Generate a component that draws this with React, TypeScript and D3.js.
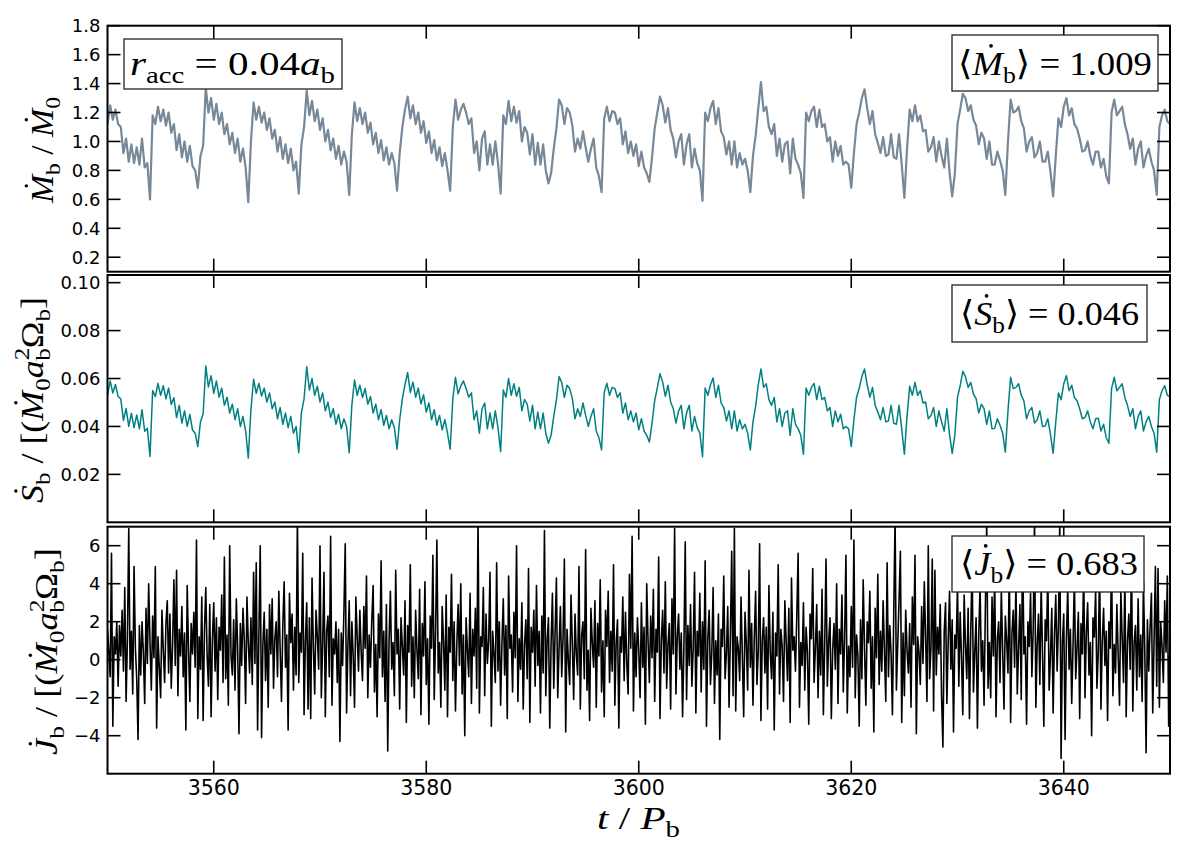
import * as d3 from "d3";
import React, { useEffect, useRef } from "react";

// time axis: all series start at t = 3550 P_b
const tStart = 3550;
const slowStep = 0.25; // sampling of Mdot and Sdot
const fastStep = 0.125; // sampling of Jdot

// accretion rate Mdot_b / Mdot_0
const mdot = [
  1.12, 1.25, 1.15, 1.22, 1.12, 1.10, 0.92, 1.02, 0.86, 0.98,
  0.85, 0.96, 0.84, 1.02, 0.82, 0.85, 0.60, 1.18, 1.12, 1.24,
  1.14, 1.22, 1.11, 1.20, 1.06, 1.12, 0.94, 1.05, 0.89, 1.00,
  0.86, 0.97, 0.83, 0.80, 0.68, 0.90, 0.97, 1.37, 1.20, 1.30,
  1.15, 1.26, 1.12, 1.20, 1.05, 1.12, 0.98, 1.06, 0.92, 1.02,
  0.86, 0.95, 0.82, 0.58, 1.00, 1.27, 1.15, 1.24, 1.13, 1.20,
  1.08, 1.16, 1.02, 1.08, 0.93, 1.03, 0.88, 0.98, 0.85, 0.95,
  0.80, 0.86, 0.64, 0.98, 1.10, 1.35, 1.18, 1.28, 1.14, 1.22,
  1.08, 1.16, 1.00, 1.08, 0.94, 1.02, 0.88, 0.97, 0.84, 0.93,
  0.86, 0.63, 1.05, 1.27, 1.14, 1.23, 1.12, 1.20, 1.06, 1.13,
  0.98, 1.06, 0.92, 1.01, 0.87, 0.96, 0.84, 0.92, 0.85, 0.66,
  0.92, 1.10, 1.22, 1.31, 1.16, 1.25, 1.12, 1.20, 1.06, 1.14,
  0.99, 1.07, 0.92, 1.01, 0.87, 0.96, 0.83, 0.92, 0.80, 0.66,
  1.10, 1.29, 1.15, 1.22, 1.26, 1.20, 1.12, 1.16, 0.92, 1.00,
  0.80, 1.02, 1.07, 0.84, 0.98, 0.84, 1.00, 0.85, 0.64, 1.18,
  1.12, 1.28, 1.14, 1.24, 1.13, 1.21, 1.00, 1.10, 1.06, 0.91,
  1.05, 0.84, 0.99, 0.84, 0.98, 0.80, 0.71, 0.78, 0.95, 1.09,
  1.29, 1.25, 1.12, 1.23, 1.20, 1.11, 0.93, 1.02, 0.95, 1.07,
  0.96, 0.86, 0.95, 1.02, 0.82, 0.76, 0.65, 1.16, 1.24, 1.14,
  1.21, 1.20, 1.12, 1.16, 0.98, 1.07, 0.92, 1.00, 0.90, 0.98,
  0.83, 0.93, 0.82, 0.78, 0.72, 0.89, 1.09, 1.20, 1.31, 1.25,
  1.13, 1.23, 1.08, 1.02, 0.89, 1.00, 1.05, 0.84, 0.98, 1.05,
  0.82, 0.95, 0.85, 0.80, 0.59, 1.20, 1.14, 1.23, 1.28, 1.12,
  1.23, 1.07, 1.03, 0.91, 1.00, 0.84, 1.00, 0.82, 0.92, 0.84,
  0.88, 0.80, 0.65, 0.90, 1.04, 1.23, 1.41, 1.21, 1.24, 1.10,
  1.05, 1.12, 0.90, 1.02, 0.86, 0.98, 1.00, 0.78, 1.02, 0.88,
  0.84, 0.78, 0.61, 1.20, 1.14, 1.21, 1.24, 1.10, 1.22, 1.10,
  1.12, 1.00, 1.03, 0.86, 1.00, 0.90, 0.97, 0.84, 0.86, 0.84,
  0.68, 0.92, 1.12, 1.20, 1.30, 1.36, 1.23, 1.12, 1.21, 1.05,
  0.99, 0.92, 1.03, 0.90, 0.91, 1.05, 0.89, 0.88, 1.05, 0.84,
  0.61, 0.95, 1.22, 1.14, 1.25, 1.14, 1.18, 1.07, 1.08, 0.93,
  0.96, 1.03, 0.86, 1.00, 0.90, 0.82, 1.02, 0.79, 0.62, 0.78,
  1.12, 1.22, 1.33, 1.30, 1.21, 1.25, 1.15, 1.11, 0.98, 1.06,
  1.02, 0.88, 1.00, 0.84, 0.84, 0.93, 0.87, 0.80, 0.63, 1.00,
  1.29, 1.20, 1.21, 1.24, 1.14, 1.09, 0.93, 1.00, 1.03, 0.89,
  0.92, 1.00, 0.86, 0.86, 0.93, 0.79, 0.62, 0.90, 1.16, 1.10,
  1.24, 1.30, 1.18, 1.23, 1.12, 1.09, 1.02, 0.93, 0.94, 1.00,
  0.90, 0.84, 0.93, 0.93, 0.82, 0.88, 0.76, 0.71, 1.20, 1.29,
  1.18, 1.21, 1.24, 1.12, 1.05, 0.95, 1.02, 0.84, 0.95, 1.00,
  0.82, 0.90, 0.95, 0.86, 0.80, 0.63, 1.10, 1.18, 1.22, 1.14,
  1.12,
];

// Sdot_b, middle panel
const sdot = [
  0.0530, 0.0590, 0.0540, 0.0575, 0.0525, 0.0515, 0.0425, 0.0475, 0.0400, 0.0455,
  0.0395, 0.0448, 0.0390, 0.0470, 0.0380, 0.0392, 0.0275, 0.0550, 0.0525, 0.0580,
  0.0530, 0.0570, 0.0515, 0.0560, 0.0492, 0.0520, 0.0437, 0.0488, 0.0414, 0.0465,
  0.0400, 0.0450, 0.0385, 0.0372, 0.0316, 0.0420, 0.0452, 0.0652, 0.0565, 0.0612,
  0.0538, 0.0590, 0.0522, 0.0560, 0.0488, 0.0522, 0.0456, 0.0493, 0.0428, 0.0474,
  0.0400, 0.0442, 0.0381, 0.0268, 0.0470, 0.0597, 0.0538, 0.0580, 0.0527, 0.0560,
  0.0502, 0.0540, 0.0474, 0.0502, 0.0432, 0.0479, 0.0409, 0.0456, 0.0395, 0.0442,
  0.0372, 0.0400, 0.0290, 0.0458, 0.0515, 0.0649, 0.0552, 0.0600, 0.0530, 0.0568,
  0.0502, 0.0540, 0.0465, 0.0502, 0.0437, 0.0474, 0.0409, 0.0451, 0.0390, 0.0432,
  0.0400, 0.0290, 0.0490, 0.0594, 0.0530, 0.0572, 0.0521, 0.0558, 0.0493, 0.0525,
  0.0456, 0.0493, 0.0428, 0.0470, 0.0405, 0.0446, 0.0390, 0.0428, 0.0395, 0.0305,
  0.0428, 0.0515, 0.0575, 0.0625, 0.0542, 0.0585, 0.0522, 0.0560, 0.0494, 0.0532,
  0.0460, 0.0498, 0.0428, 0.0470, 0.0405, 0.0446, 0.0386, 0.0428, 0.0372, 0.0305,
  0.0515, 0.0605, 0.0536, 0.0568, 0.0590, 0.0558, 0.0522, 0.0540, 0.0428, 0.0465,
  0.0372, 0.0474, 0.0498, 0.0390, 0.0456, 0.0390, 0.0465, 0.0395, 0.0295, 0.0552,
  0.0522, 0.0600, 0.0530, 0.0578, 0.0526, 0.0563, 0.0465, 0.0512, 0.0493, 0.0423,
  0.0488, 0.0390, 0.0460, 0.0390, 0.0456, 0.0372, 0.0330, 0.0363, 0.0442, 0.0510,
  0.0608, 0.0584, 0.0521, 0.0572, 0.0558, 0.0516, 0.0432, 0.0474, 0.0442, 0.0498,
  0.0446, 0.0400, 0.0442, 0.0474, 0.0381, 0.0353, 0.0302, 0.0542, 0.0580, 0.0530,
  0.0563, 0.0558, 0.0521, 0.0540, 0.0456, 0.0498, 0.0428, 0.0465, 0.0419, 0.0456,
  0.0386, 0.0432, 0.0381, 0.0363, 0.0335, 0.0414, 0.0508, 0.0562, 0.0620, 0.0585,
  0.0526, 0.0572, 0.0502, 0.0474, 0.0414, 0.0465, 0.0488, 0.0390, 0.0456, 0.0488,
  0.0381, 0.0442, 0.0395, 0.0372, 0.0274, 0.0560, 0.0530, 0.0574, 0.0602, 0.0521,
  0.0572, 0.0498, 0.0479, 0.0423, 0.0465, 0.0390, 0.0465, 0.0381, 0.0428, 0.0390,
  0.0409, 0.0372, 0.0302, 0.0419, 0.0484, 0.0575, 0.0640, 0.0563, 0.0578, 0.0512,
  0.0488, 0.0521, 0.0419, 0.0474, 0.0400, 0.0456, 0.0465, 0.0363, 0.0474, 0.0409,
  0.0390, 0.0363, 0.0284, 0.0560, 0.0530, 0.0563, 0.0580, 0.0512, 0.0568, 0.0512,
  0.0521, 0.0465, 0.0479, 0.0400, 0.0465, 0.0419, 0.0451, 0.0390, 0.0400, 0.0390,
  0.0316, 0.0428, 0.0522, 0.0560, 0.0608, 0.0640, 0.0574, 0.0522, 0.0563, 0.0488,
  0.0460, 0.0428, 0.0479, 0.0419, 0.0423, 0.0488, 0.0414, 0.0409, 0.0488, 0.0390,
  0.0284, 0.0442, 0.0568, 0.0530, 0.0584, 0.0530, 0.0549, 0.0498, 0.0502, 0.0432,
  0.0446, 0.0479, 0.0400, 0.0465, 0.0419, 0.0381, 0.0474, 0.0367, 0.0288, 0.0363,
  0.0521, 0.0570, 0.0630, 0.0608, 0.0563, 0.0584, 0.0535, 0.0516, 0.0456, 0.0493,
  0.0474, 0.0409, 0.0465, 0.0390, 0.0392, 0.0432, 0.0405, 0.0372, 0.0293, 0.0465,
  0.0605, 0.0558, 0.0563, 0.0578, 0.0530, 0.0507, 0.0432, 0.0465, 0.0479, 0.0414,
  0.0428, 0.0465, 0.0400, 0.0402, 0.0432, 0.0367, 0.0288, 0.0419, 0.0540, 0.0512,
  0.0578, 0.0612, 0.0549, 0.0572, 0.0521, 0.0507, 0.0474, 0.0432, 0.0437, 0.0465,
  0.0419, 0.0390, 0.0432, 0.0434, 0.0381, 0.0409, 0.0353, 0.0330, 0.0558, 0.0605,
  0.0549, 0.0563, 0.0578, 0.0521, 0.0488, 0.0442, 0.0474, 0.0390, 0.0442, 0.0465,
  0.0381, 0.0419, 0.0442, 0.0400, 0.0372, 0.0293, 0.0512, 0.0549, 0.0570, 0.0530,
  0.0525,
];

// Jdot_b, bottom panel (8 samples per orbit, one row per orbit)
const jdot = [
  1.6, 0.4, -0.9, 5.6, -3.5, 1.2, 0.3, 2.0,
  -1.4, 1.8, 0.2, 2.6, -0.6, 3.8, -2.2, 1.1,
  6.9, -0.5, 1.5, -1.8, 4.9, 0.6, -1.0, -4.2,
  1.8, -0.8, 2.0, 0.4, -2.3, 2.7, -0.2, 4.0,
  0.9, -1.6, 2.3, 0.1, 4.9, -3.6, 1.2, -0.4,
  -2.0, 2.6, 0.5, -1.2, 1.9, 3.1, -0.7, 2.4,
  -1.5, 0.8, 4.2, -0.3, 4.7, -1.9, 1.6, 0.2,
  2.8, -0.9, 1.4, -3.7, 3.9, 0.6, -2.2, 1.9,
  0.3, 2.5, -0.4, 6.3, -3.1, 1.2, -0.5, 3.3,
  -3.2, 1.5, 3.8, 0.2, -1.4, 2.9, -3.0, 1.1,
  3.0, -0.6, 2.2, -2.1, 1.7, 0.5, 3.4, -1.2,
  5.4, -1.0, 1.3, -2.4, 6.0, 0.2, -0.8, 2.1,
  -1.6, 3.2, 0.6, -3.9, 1.9, -0.3, 2.7, 1.0,
  -2.3, 3.3, 0.9, -0.7, 2.2, -1.3, 4.6, -0.2,
  5.1, -3.7, 1.4, 6.0, -4.1, 0.8, 2.5, -1.1,
  1.6, -2.5, 2.9, 0.3, 3.2, -1.5, 1.1, 2.0,
  -0.9, 3.6, 0.5, -2.2, 1.8, 4.1, -0.4, 1.3,
  -3.7, 3.5, 0.9, 2.4, -1.6, 1.7, -0.8, 7.6,
  -1.2, 1.4, 0.4, 5.6, -2.9, 1.0, 3.0, -2.6,
  2.2, -3.1, 4.3, 0.7, -1.8, 2.6, 1.2, -0.5,
  6.0, -2.0, 0.8, 4.6, -3.0, 1.5, 2.3, -0.9,
  6.5, -2.4, 1.1, 0.3, 2.0, -1.2, 1.6, -4.3,
  1.4, -0.3, 2.5, 6.1, -2.8, 0.7, 3.1, -1.9,
  2.0, 0.2, -2.5, 3.3, 1.2, -0.6, 2.6, 0.4,
  -1.1, 2.8, 0.6, 4.4, -2.0, 1.3, -0.4, 2.1,
  3.9, -1.7, 0.8, -3.0, 2.4, 0.1, 5.2, -0.9,
  1.5, -2.2, 2.9, -4.8, 1.0, 3.6, -0.5, 0.9,
  -1.9, 4.7, 0.3, 1.6, -2.6, 2.2, 0.7, -0.8,
  3.1, -3.3, 1.8, 0.4, 5.0, -1.4, 1.2, -2.0,
  2.6, 0.5, -1.0, 3.7, -2.9, 1.9, 0.2, 4.1,
  -1.3, 1.1, -3.4, 2.3, 0.6, 5.5, -2.1, 1.4,
  6.3, -0.7, 0.9, -2.5, 2.8, 1.0, -1.6, 3.4,
  -3.0, 1.7, 0.4, 4.5, -1.1, 2.0, -2.7, 0.8,
  2.9, -0.3, 4.0, -1.8, 1.3, -4.0, 2.2, 0.5,
  -0.9, 3.5, -2.3, 1.6, 0.2, 2.7, -1.5, 7.4,
  -2.8, 1.2, 0.7, 3.8, -1.9, 2.4, -0.2, 1.0,
  4.6, -3.5, 1.5, 0.3, -1.2, 5.1, -0.6, 2.0,
  -2.4, 0.9, 3.2, -0.8, 1.8, -3.1, 4.4, 0.6,
  1.3, -1.7, 2.5, 0.1, 6.0, -2.2, 1.1, -0.5,
  3.0, -2.6, 0.8, 2.1, -1.0, 4.8, -3.3, 1.7,
  0.4, 2.6, -1.4, 3.9, -0.3, 1.5, -2.8, 2.3,
  -0.7, 6.8, -1.9, 1.0, 2.2, -3.6, 0.9, 3.5,
  -1.5, 1.4, 4.3, -2.0, 0.6, 2.8, -0.9, 1.2,
  5.3, -3.8, 1.6, 0.0, -1.3, 3.4, 0.8, -2.1,
  2.4, 0.3, -0.8, 4.9, -2.6, 1.3, 2.0, -1.0,
  5.8, -1.6, 0.5, -3.2, 2.7, 0.9, -0.4, 3.1,
  -2.5, 1.9, 0.2, 4.2, -1.7, 1.0, -3.0, 2.6,
  0.7, 3.6, -1.2, 1.5, -0.6, 5.0, -2.4, 0.9,
  2.1, -3.6, 1.2, 0.4, 3.3, -1.1, 2.5, -0.2,
  -1.8, 4.5, 0.6, 6.5, -2.7, 1.4, -0.9, 2.2,
  0.5, -2.0, 3.0, -0.4, 1.7, -3.4, 4.0, 1.0,
  -1.2, 2.3, 0.1, 3.7, -2.2, 1.6, 0.4, 5.4,
  -3.1, 1.0, 2.6, -0.7, 4.1, -1.5, 0.8, 1.9,
  -2.6, 3.2, 0.3, 6.9, -1.8, 1.2, 2.4, -0.5,
  1.4, -3.0, 0.7, 6.2, -2.1, 1.8, -0.3, 2.9,
  -1.4, 0.6, 4.6, -2.8, 1.5, 0.2, 3.5, -1.7,
  2.0, -0.5, 5.2, -3.5, 1.1, 2.6, -1.3, 0.4,
  3.8, -2.3, 1.0, -0.8, 2.4, -4.2, 1.6, 0.7,
  4.4, -1.0, 0.3, 2.8, -2.5, 1.3, 5.7, -1.9,
  6.9, -2.7, 1.2, 0.6, -1.1, 3.3, 0.2, -3.0,
  2.5, 0.8, -1.6, 4.7, -0.4, 1.9, -2.4, 1.2,
  3.6, -1.3, 0.5, 6.1, -3.2, 1.0, 2.2, -0.7,
  1.7, -2.6, 3.9, 0.4, -1.0, 2.5, -3.7, 1.4,
  0.2, 5.0, -1.8, 1.6, 0.7, -2.2, 3.1, 0.9,
  -1.1, 2.7, -3.3, 4.3, 0.5, 1.2, -0.6, 2.3,
  5.6, -2.5, 0.9, -0.3, 3.0, -1.6, 1.7, 0.4,
  -3.4, 2.4, 1.1, 4.8, -1.2, 0.6, 2.9, -2.0,
  1.5, -0.8, 3.7, -2.9, 0.8, 5.3, -1.4, 1.0,
  2.2, -3.1, 0.5, 1.9, -0.5, 4.0, -2.3, 1.6,
  0.3, 3.4, -1.7, 1.2, 5.5, -2.8, 0.7, -0.9,
  2.8, -0.4, 6.3, -2.0, 1.3, 0.2, -3.5, 2.1,
  -1.0, 4.2, 0.6, -2.4, 2.0, 0.9, 3.6, -1.5,
  1.2, -3.8, 2.7, 0.1, 4.5, -1.3, 1.5, -0.6,
  3.1, 0.4, -2.2, 5.1, -0.9, 1.8, 0.3, -2.9,
  2.4, 7.5, -1.6, 0.8, 3.2, 5.7, -3.3, 1.4,
  -1.9, 2.6, 0.5, -0.7, 1.9, -2.5, 3.3, 0.8,
  5.5, -3.9, 1.2, 0.4, -1.3, 2.8, -0.2, 4.1,
  1.1, -2.2, 6.0, -1.0, 0.6, 5.3, -2.7, 4.7,
  -0.8, 1.7, 0.3, 2.9, -1.9, -4.6, 1.5, 3.0,
  -2.3, 1.0, 3.6, -0.5, 2.1, -3.8, 1.3, 0.6,
  4.0, -1.4, 2.5, 0.1, -2.9, 3.4, 0.8, -1.0,
  2.7, -3.1, 1.6, 5.0, -1.7, 0.4, 2.2, -3.6,
  1.3, 3.9, -0.6, 1.0, -2.4, 2.8, 7.2, -1.5,
  0.9, -2.0, 3.3, 0.2, 4.5, -3.0, 1.1, 2.0,
  -1.2, 3.7, 0.5, -2.6, 2.3, 1.0, -0.7, 5.1,
  -3.3, 1.4, 2.6, -0.4, 4.2, -1.8, 0.6, 2.9,
  -2.1, 6.4, 0.3, 1.2, -3.4, 2.0, 0.7, 3.5,
  -0.9, 1.6, 7.3, -2.5, 0.8, 2.4, -1.3, 4.0,
  0.4, -3.5, 2.1, 1.0, 4.6, -1.6, 0.2, 2.7,
  -2.8, 1.3, 3.4, -0.6, 1.8, 7.4, -5.2, 0.9,
  2.4, -4.2, 1.1, 3.8, -0.5, 1.6, -2.3, 0.8,
  4.3, -1.0, 0.6, 2.5, -3.1, 1.9, 0.3, 5.0,
  -2.0, 1.4, 3.0, -0.8, 0.9, -4.0, 2.2, 1.2,
  3.7, -1.5, 0.4, 4.9, -2.6, 1.0, 2.7, -0.3,
  1.5, -3.2, 2.0, 0.6, 5.4, -1.9, 0.8, -0.7,
  2.9, 0.2, -2.4, 3.6, 1.1, -1.2, 4.4, -3.0,
  1.0, 2.4, -0.5, 5.6, -2.7, 0.9, 1.8, -1.6,
  3.2, -0.9, 1.3, -2.2, 4.1, 0.5, -4.9, 2.1,
  -0.6, 1.7, 3.5, -2.8, 1.0, 4.9, -1.4, 4.8,
  -2.5, 2.0, 0.7, -1.2, 3.1, 0.4, 4.4, -3.5,
  1.2,
];

const xTicks = [3560, 3580, 3600, 3620, 3640];
const mTicks = [0.2, 0.4, 0.6, 0.8, 1.0, 1.2, 1.4, 1.6, 1.8];
const sTicks = [0.02, 0.04, 0.06, 0.08, 0.1];
const jTicks = [-4, -2, 0, 2, 4, 6];

const mMean = "1.009";
const sMean = "0.046";
const jMean = "0.683";
const rAcc = "0.04";

const MATH = "'Liberation Serif', 'DejaVu Serif', serif";
const SANS = "'DejaVu Sans', sans-serif";

type Part = { s: string; it?: boolean; pos?: "sub" | "sup"; dx?: number; dot?: boolean };

// mathtext-like label built from tspans; dots drawn as circles above marked letters
function mathText(parent: any, parts: Part[], size: number, x: number, y: number, anchor: string, width?: number) {
  const g = parent.append("g").attr("transform", `translate(${x},${y})`);
  const text = g.append("text").attr("text-anchor", anchor).attr("font-family", MATH).attr("font-size", size).attr("fill", "#000");
  let shift = 0;
  let idx = 0;
  const dots: number[] = [];
  parts.forEach(p => {
    const target = p.pos === "sub" ? 0.24 * size : p.pos === "sup" ? -0.42 * size : 0;
    const ts = text
      .append("tspan")
      .text(p.s)
      .attr("font-style", p.it ? "italic" : "normal")
      .attr("font-size", p.pos ? size * 0.7 : size)
      .attr("dy", target - shift);
    if (p.dx) ts.attr("dx", p.dx * size);
    shift = target;
    if (p.dot) dots.push(idx);
    idx += p.s.length;
  });
  if (width) text.attr("textLength", width).attr("lengthAdjust", "spacingAndGlyphs");
  const node = text.node();
  dots.forEach(i => {
    const a = node.getStartPositionOfChar(i);
    const b = node.getEndPositionOfChar(i);
    g.append("circle")
      .attr("cx", (a.x + b.x) / 2 + 0.1 * size)
      .attr("cy", a.y - 0.86 * size)
      .attr("r", 0.055 * size)
      .attr("fill", "#000");
  });
  return g;
}

function drawChart(el: SVGSVGElement) {
  const svg = d3.select(el);
  svg.selectAll("*").remove();

  const left = 107.5, right = 1170;
  const x = d3.scaleLinear().domain([3550, 3650]).range([left, right]);

  const panels = [
    { id: "m", values: mdot, step: slowStep, top: 25.7, bottom: 271.7, domain: [0.1, 1.8], ticks: mTicks, fmt: d3.format(".1f"), color: "#778899", lw: 2.2 },
    { id: "s", values: sdot, step: slowStep, top: 275, bottom: 522.3, domain: [0, 0.1032], ticks: sTicks, fmt: d3.format(".2f"), color: "#008080", lw: 1.5 },
    { id: "j", values: jdot, step: fastStep, top: 526.7, bottom: 773.7, domain: [-6, 7], ticks: jTicks, fmt: d3.format("d"), color: "#000000", lw: 1.6 },
  ];

  svg.append("rect").attr("width", 1200).attr("height", 850).attr("fill", "#fff");

  const tick = 13;
  const panelG = panels.map(p => {
    const y = d3.scaleLinear().domain(p.domain).range([p.bottom, p.top]);
    const g = svg.append("g");
    g.append("clipPath").attr("id", `clip-${p.id}`)
      .append("rect").attr("x", left).attr("y", p.top).attr("width", right - left).attr("height", p.bottom - p.top);

    const line = d3.line<number>()
      .x((d, i) => x(tStart + i * p.step))
      .y(d => y(d));
    g.append("path")
      .datum(p.values)
      .attr("clip-path", `url(#clip-${p.id})`)
      .attr("fill", "none")
      .attr("stroke", p.color)
      .attr("stroke-width", p.lw)
      .attr("stroke-linejoin", "round")
      .attr("d", line);

    // inward ticks on all four sides
    const tk = g.append("g").attr("stroke", "#000").attr("stroke-width", 1.6);
    p.ticks.forEach(v => {
      tk.append("line").attr("x1", left).attr("x2", left + tick).attr("y1", y(v)).attr("y2", y(v));
      tk.append("line").attr("x1", right).attr("x2", right - tick).attr("y1", y(v)).attr("y2", y(v));
    });
    xTicks.forEach(v => {
      tk.append("line").attr("x1", x(v)).attr("x2", x(v)).attr("y1", p.top).attr("y2", p.top + tick);
      tk.append("line").attr("x1", x(v)).attr("x2", x(v)).attr("y1", p.bottom).attr("y2", p.bottom - tick);
    });

    g.append("g")
      .attr("font-family", SANS)
      .attr("font-size", 18)
      .attr("text-anchor", "end")
      .selectAll("text")
      .data(p.ticks)
      .join("text")
      .attr("x", left - 7)
      .attr("y", d => y(d))
      .attr("dy", "0.36em")
      .text(d => p.fmt(d));

    g.append("rect")
      .attr("x", left).attr("y", p.top)
      .attr("width", right - left).attr("height", p.bottom - p.top)
      .attr("fill", "none").attr("stroke", "#000").attr("stroke-width", 2);
    return g;
  });

  // x tick labels under the bottom panel
  svg.append("g")
    .attr("font-family", SANS)
    .attr("font-size", 20.5)
    .attr("text-anchor", "middle")
    .selectAll("text")
    .data(xTicks)
    .join("text")
    .attr("x", d => x(d))
    .attr("y", 795)
    .text(d => String(d));

  // legend boxes
  const box = (g: any, bx: number, by: number, bw: number, bh: number) =>
    g.append("rect").attr("x", bx).attr("y", by).attr("width", bw).attr("height", bh)
      .attr("fill", "#fff").attr("stroke", "#222").attr("stroke-width", 1.3);

  box(panelG[0], 124, 39, 218, 50);
  mathText(panelG[0], [
    { s: "r", it: true }, { s: "acc", pos: "sub" }, { s: " = " }, { s: rAcc }, { s: "a", it: true }, { s: "b", pos: "sub" },
  ], 34, 232.5, 75, "middle", 205);

  box(panelG[0], 952, 35, 206, 56);
  mathText(panelG[0], [
    { s: "\u27E8" }, { s: "M", it: true, dot: true }, { s: "b", pos: "sub" }, { s: "\u27E9" }, { s: " = " + mMean },
  ], 34, 1055, 75, "middle", 194);

  box(panelG[1], 952, 285, 195, 57);
  mathText(panelG[1], [
    { s: "\u27E8" }, { s: "S", it: true, dot: true }, { s: "b", pos: "sub" }, { s: "\u27E9" }, { s: " = " + sMean },
  ], 34, 1049.5, 325, "middle", 179);

  box(panelG[2], 952, 536, 192, 56);
  mathText(panelG[2], [
    { s: "\u27E8" }, { s: "J", it: true, dot: true }, { s: "b", pos: "sub" }, { s: "\u27E9" }, { s: " = " + jMean },
  ], 34, 1049, 575, "middle", 178);

  // axis labels
  const rot = (g: any) => g.attr("transform", g.attr("transform") + " rotate(-90)");
  rot(mathText(svg, [
    { s: "M", it: true, dot: true }, { s: "b", pos: "sub" }, { s: " / " }, { s: "M", it: true, dot: true }, { s: "0", pos: "sub" },
  ], 31, 53, 150, "middle", 106));

  const torque = (lead: string): Part[] => [
    { s: lead, it: true, dot: true }, { s: "b", pos: "sub" }, { s: " / [(" }, { s: "M", it: true, dot: true }, { s: "0", pos: "sub" },
    { s: "a", it: true }, { s: "2", pos: "sup" }, { s: "b", pos: "sub", dx: -0.36 }, { s: "\u03A9" }, { s: "b", pos: "sub" }, { s: "]" },
  ];
  rot(mathText(svg, torque("S"), 31, 42.5, 400, "middle", 206));
  rot(mathText(svg, torque("J"), 31, 57, 651.5, "middle", 207));

  mathText(svg, [
    { s: "t", it: true }, { s: " / " }, { s: "P", it: true }, { s: "b", pos: "sub" },
  ], 32, 638.5, 829, "middle", 83);
}

export default function App() {
  const ref = useRef<SVGSVGElement>(null);
  useEffect(() => {
    if (ref.current) drawChart(ref.current);
  }, []);
  return (
    <div style={{ position: "absolute", left: 0, top: 0 }}>
      <svg ref={ref} width={1200} height={850} />
    </div>
  );
}
